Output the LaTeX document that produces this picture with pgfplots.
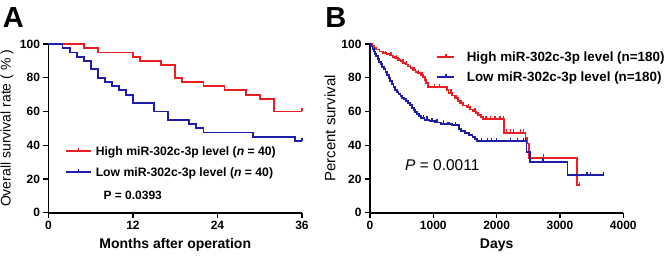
\documentclass[border=0pt]{standalone}
\usepackage{fontspec}
\setmainfont{Liberation Sans}
\usepackage{pgfplots}
\pgfplotsset{compat=1.18}
\definecolor{kmred}{RGB}{235,30,35}
\definecolor{kmblue}{RGB}{30,30,170}
\pgfdeclareplotmark{cens}{\pgfpathmoveto{\pgfpointorigin}\pgfpathlineto{\pgfpoint{0pt}{\pgfplotmarksize}}\pgfusepathqstroke}
\pgfplotsset{kmaxis/.style={
  scale only axis, height=168.7pt,
  axis x line*=bottom, axis y line*=left,
  axis line style={line width=1.6pt,-},
  tick align=outside, major tick length=5pt,
  tick style={line width=1.4pt, black},
  ymin=0, ymax=100, ytick={0,20,...,100},
  tick label style={font=\bfseries\fontsize{12}{14}\selectfont},
  /pgf/number format/assume math mode=true,
  /pgf/number format/1000 sep={},
  scaled ticks=false,
  clip=false,
  legend cell align=left,
  legend style={draw=none, fill=none, inner sep=0pt, outer sep=0pt,
    nodes={inner sep=0pt, outer sep=0pt, text height=8.6pt, text depth=0pt}},
  },
  kmline/.style={const plot, mark=none, line width=1.8pt},
  kmcens/.style={only marks, mark=cens, mark size=3.5pt, line width=1.3pt}
}
\begin{document}
\begin{tikzpicture}
\useasboundingbox (0,0) rectangle (669pt,255pt);
\node[font=\bfseries\fontsize{29}{30}\selectfont] at (13.3pt,237.5pt) {A};
\node[font=\bfseries\fontsize{29}{30}\selectfont] at (335.8pt,237.5pt) {B};
% Panel A
\begin{axis}[kmaxis, at={(48.5pt,42.3pt)}, anchor=south west, width=253.5pt,
  xmin=0, xmax=36, xtick={0,12,24,36},
  xlabel={Months after operation},
  xlabel style={font=\bfseries\fontsize{14}{16}\selectfont, at={(axis description cs:0.5,-0.1915)}, anchor=center},
  ylabel={Overall survival rate ( \% )},
  ylabel style={font=\fontsize{14}{16}\selectfont, at={(axis description cs:-0.1637,0.5)}, anchor=center},
  legend style={at={(axis description cs:0.065,0.389)}, anchor=north west, row sep=12.4pt, column sep=4pt,
    font=\bfseries\fontsize{12.2}{14}\selectfont},
  legend image code/.code={\draw[#1, line width=1.8pt] (0pt,0pt) -- (25pt,0pt); \draw[#1, line width=1.3pt] (12.5pt,0pt) -- (12.5pt,3.5pt);},
]
\addplot[kmline, kmred] coordinates {(0,100) (5,97.5) (7,95) (12,92.5) (13,90) (16,87.5) (18,80) (19,77.5) (22,75) (25,72.5) (28,70) (30,67.5) (32,60) (36,60)};
\addlegendentry{High miR-302c-3p level (\textit{n} = 40)}
\addplot[kmline, kmblue] coordinates {(0,100) (2,97.5) (3,95) (4,92.5) (5,90) (6,85) (7,80) (8,77.5) (9,75) (10,72.5) (11,70) (12,65) (15,60) (17,55) (20,52.5) (21,50) (22,47.5) (29,45) (35,42.5) (36,42.5)};
\addlegendentry{Low miR-302c-3p level (\textit{n} = 40)}
\addplot[kmcens, kmred, forget plot] coordinates {(36,60)};
\addplot[kmcens, kmblue, forget plot] coordinates {(36,42.5)};
\node[anchor=west, font=\bfseries\fontsize{12}{14}\selectfont] at (axis cs:7.31,10.5) {P = 0.0393};
\end{axis}
% Panel B
\begin{axis}[kmaxis, at={(370pt,42.3pt)}, anchor=south west, width=253.3pt,
  xmin=0, xmax=4000, xtick={0,1000,...,4000},
  xlabel={Days},
  xlabel style={font=\bfseries\fontsize{14}{16}\selectfont, at={(axis description cs:0.5,-0.1915)}, anchor=center},
  ylabel={Percent survival},
  ylabel style={font=\fontsize{15}{17}\selectfont, at={(axis description cs:-0.158,0.5)}, anchor=center},
  legend style={at={(axis description cs:0.2606,0.952)}, anchor=north west, row sep=10.7pt, column sep=12pt,
    font=\bfseries\fontsize{13.4}{15}\selectfont, nodes={text height=9.3pt}},
  legend image code/.code={\draw[#1, line width=1.8pt] (0pt,0pt) -- (17pt,0pt); \draw[#1, line width=1.3pt] (9pt,0pt) -- (9pt,3pt);},
]
\addplot[kmline, kmred] coordinates {(0,100) (30,98.9) (60,97.8) (100,96.7) (150,95.5) (200,94.8) (260,94.0) (310,93.2) (360,92.4) (400,91.5) (440,90.6) (480,89.7) (520,88.8) (560,87.8) (600,86.7) (640,85.6) (680,84.5) (720,83.5) (760,82.6) (800,81.6) (840,80.3) (865,78.7) (890,76.8) (915,74.5) (1210,72.8) (1240,71) (1290,69.5) (1340,67.8) (1390,66.2) (1420,64.8) (1470,63.6) (1530,62.5) (1580,61.2) (1630,60) (1680,59) (1710,58) (1750,56.8) (1790,55.5) (2115,47.3) (2455,44.2) (2480,41) (2510,32.5) (3270,16.4) (3310,16.4)};
\addlegendentry{High miR-302c-3p level (n=180)}
\addplot[kmline, kmblue] coordinates {(0,100) (20,98.5) (40,97) (60,95.5) (80,94.3) (100,93) (120,91.2) (145,89.5) (170,88) (195,86.5) (220,85.3) (245,83.5) (270,81.7) (295,79.8) (320,78) (345,76.2) (370,74.5) (390,72.7) (420,71.5) (450,70.3) (480,69.3) (510,68.2) (540,67.2) (570,66) (600,65) (630,63.7) (660,62.3) (690,61) (710,59.9) (740,58.5) (770,57.2) (800,56) (860,55) (940,54.2) (1030,53.5) (1120,52.8) (1300,51.9) (1400,49.5) (1440,48.3) (1500,47.3) (1560,46.2) (1620,45) (1660,43.8) (1690,42.5) (2470,36.1) (2530,30.2) (3120,22.3) (3690,22.3)};
\addlegendentry{Low miR-302c-3p level (n=180)}
\addplot[kmcens, kmred, forget plot] coordinates {(250,94.0) (330,93.2) (420,91.5) (470,89.7) (520,88.8) (580,87.8) (640,85.6) (700,84.5) (770,82.6) (820,81.6) (1020,74.5) (1100,74.5) (1280,71) (1370,67.8) (1450,64.8) (1560,62.5) (1660,60) (1830,55.5) (1900,55.5) (1976,55.5) (2055,55.5) (2108,55.5) (2161,47.3) (2214,47.3) (2266,47.3) (2372,47.3) (2420,47.3) (2740,32.5) (3310,16.4)};
\addplot[kmcens, kmblue, forget plot] coordinates {(840,56) (900,55) (980,54.2) (1060,53.5) (1160,52.8) (1230,51.9) (1260,51.9) (1350,51.9) (1760,42.5) (1850,42.5) (1924,42.5) (2003,42.5) (2214,42.5) (2330,42.5) (2420,42.5) (2450,42.5) (2730,30.2) (3426,22.3) (3479,22.3) (3689,22.3)};
\node[anchor=west, font=\fontsize{15.5}{17}\selectfont] at (axis cs:500,28.3) {\textit{P} = 0.0011};
\end{axis}
\end{tikzpicture}
\end{document}
